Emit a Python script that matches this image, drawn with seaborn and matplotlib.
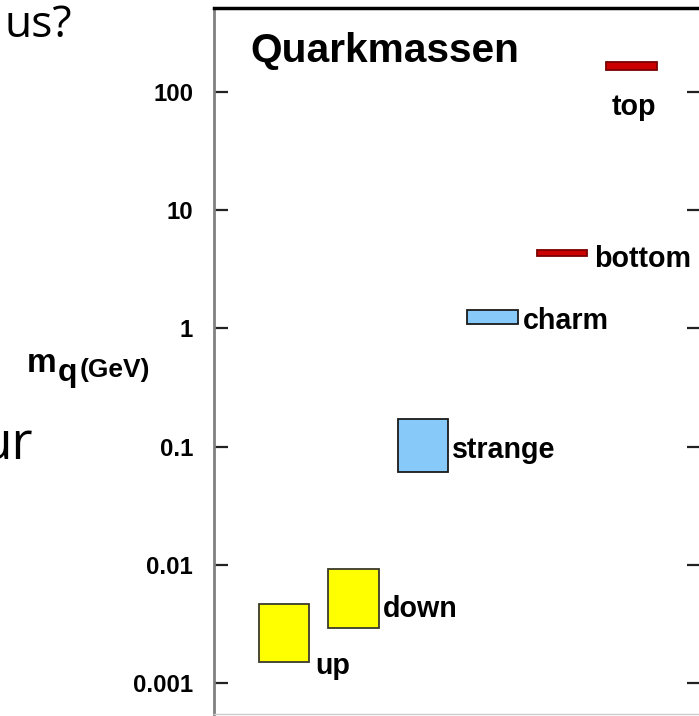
import matplotlib
matplotlib.use("Agg")
import matplotlib.pyplot as plt
from matplotlib import font_manager as fm
import seaborn as sns
import numpy as np

# ---- data ----
quarks = ["up", "down", "strange", "charm", "bottom", "top"]
mass_low = [0.0015, 0.0029, 0.061, 1.10, 4.10, 154.0]     # GeV
mass_high = [0.0047, 0.0092, 0.170, 1.43, 4.60, 180.0]    # GeV
box_colors = ["#ffff00", "#ffff00", "#87cafa", "#87cafa", "#cc0000", "#cc0000"]
edge_colors = ["#3a3a2a", "#3a3a2a", "#1a1a1a", "#1a1a1a", "#7a0000", "#7a0000"]
ytick_values = [0.001, 0.01, 0.1, 1, 10, 100]
ytick_labels = ["0.001", "0.01", "0.1", "1", "10", "100"]
title_text = "Quarkmassen"

sns.set_style("white")
names = {f.name for f in fm.fontManager.ttflist}
if "Liberation Sans Narrow" in names:
    NARROW = ["Liberation Sans Narrow", "DejaVu Sans"]
    k = 1.0
else:
    NARROW = ["Liberation Sans", "DejaVu Sans"]
    k = 0.86
plt.rcParams["font.family"] = NARROW
plt.rcParams["text.color"] = "black"

W, H = 699, 716
fig = plt.figure(figsize=(W / 100, H / 100), dpi=100)
fig.patch.set_facecolor("white")

ax_l, ax_r, ax_t, ax_b = 214, 701, 8, 714
ax = fig.add_axes([ax_l / W, 1 - ax_b / H, (ax_r - ax_l) / W, (ax_b - ax_t) / H])

sns.barplot(x=quarks, y=mass_high, hue=quarks, order=quarks, hue_order=quarks,
            palette=box_colors, saturation=1, legend=False, errorbar=None,
            width=0.72, linewidth=1.3, ax=ax)
# turn each bar into a floating box spanning the mass range
for patch, lo, hi, ec in zip(ax.patches, mass_low, mass_high, edge_colors):
    patch.set_y(lo)
    patch.set_height(hi - lo)
    patch.set_edgecolor(ec)
    patch.set_linewidth(1.3)

ax.set_yscale("log")
ax.set_xlim(-1.007, 6.0)
ax.set_ylim(10 ** -3.262, 10 ** 2.711)
ax.set_xticks([])
ax.set_xlabel("")
ax.set_ylabel("")
ax.set_yticks(ytick_values)
ax.set_yticklabels(ytick_labels)
ax.yaxis.set_minor_locator(matplotlib.ticker.NullLocator())
ax.tick_params(axis="y", which="major", direction="in", length=10, width=1.6,
               color="#222222", labelcolor="black", left=True, right=True,
               labelsize=20 * k, pad=15)
for lab in ax.get_yticklabels():
    lab.set_fontweight("bold")
    lab.set_ha("right")

ax.spines["top"].set_color("black")
ax.spines["top"].set_linewidth(2.5)
ax.spines["left"].set_color("#808080")
ax.spines["left"].set_linewidth(2.0)
ax.spines["bottom"].set_color("#cccccc")
ax.spines["bottom"].set_linewidth(1.0)
ax.spines["right"].set_visible(False)

# quark name labels (layout: x offset from category, y anchor, alignment)
label_layout = [
    (0.45, 0.00119, "left"),
    (0.42, 0.00362, "left"),
    (0.42, 0.0801, "left"),
    (0.44, 0.989, "left"),
    (0.46, 3.30, "left"),
    (0.04, 63.8, "center"),
]
for i, (name, (dx, yv, ha)) in enumerate(zip(quarks, label_layout)):
    ax.text(i + dx, yv, name, ha=ha, va="baseline", fontsize=24 * k,
            fontweight="bold", color="black")

# title inside the frame
ax.text((250 - ax_l) / (ax_r - ax_l), (ax_b - 62) / (ax_b - ax_t), title_text,
        transform=ax.transAxes, ha="left", va="baseline", fontsize=34 * k,
        fontweight="bold", color="black")

# y-axis label built from pieces
def fpx(x, y):
    return x / W, 1 - y / H

fig.text(*fpx(27, 372), "m", fontsize=24, fontweight="bold", va="baseline")
fig.text(*fpx(58, 381), "q", fontsize=23, fontweight="bold", va="baseline")
fig.text(*fpx(80, 377), "(GeV)", fontsize=19, fontweight="bold", va="baseline")

# slide text fragments outside the chart
fig.text(*fpx(72, 37), "us?", fontsize=32, ha="right", va="baseline",
         family=["Open Sans", "DejaVu Sans"], color="black")
fig.text(*fpx(33, 460), "ur", fontsize=37, ha="right", va="baseline",
         family=["Open Sans", "DejaVu Sans"], color="black")

fig.savefig("out.png", dpi=100, facecolor="white")
